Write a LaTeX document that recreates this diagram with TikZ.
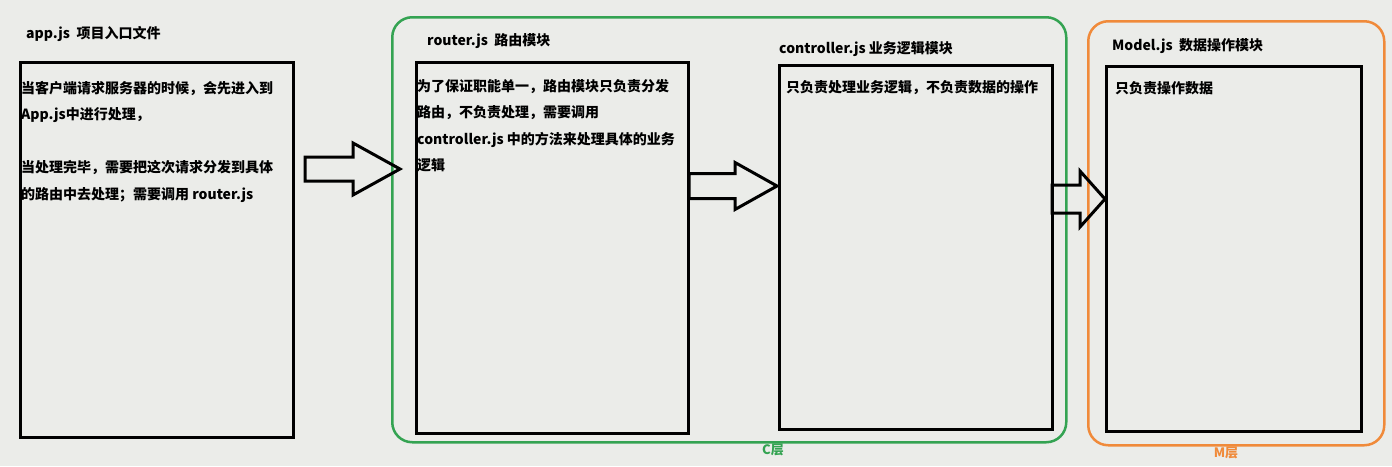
\documentclass[tikz,border=0pt]{standalone}
\usepackage{fontspec}
\setmainfont{Noto Sans CJK SC}
\usetikzlibrary{calc}
\definecolor{sfondo}{RGB}{235,236,233}
\definecolor{verde}{RGB}{52,163,82}
\definecolor{arancio}{RGB}{240,138,58}
\tikzset{
	modulo/.style={draw=black, line width=3pt, anchor=north west, inner sep=0pt},
	strato/.style={line width=2.5pt, rounded corners=20pt, anchor=north west, inner sep=0pt},
	titolo/.style={anchor=west, inner sep=0pt, font=\bfseries\fontsize{14}{16}\selectfont},
	testo/.style={anchor=north west, inner sep=0pt, align=left, font=\bfseries\fontsize{14}{26.5}\selectfont},
	etichetta/.style={inner sep=0pt, font=\bfseries\fontsize{13}{15}\selectfont},
	freccia/.style={draw=black, line width=3pt, line join=miter},
}
% freccia piena: da, a, mezzo fusto, mezza testa, lunghezza testa
\newcommand{\freccia}[5]{%
	\draw[freccia] let \p1=(#1), \p2=(#2) in
		(\x1,\y1+#3) -- (\x2-#5,\y1+#3) -- (\x2-#5,\y1+#4) -- (\x2,\y1)
		-- (\x2-#5,\y1-#4) -- (\x2-#5,\y1-#3) -- (\x1,\y1-#3) -- cycle;}
\begin{document}
\begin{tikzpicture}[x=1pt, y=-1pt]
		\useasboundingbox[fill=sfondo] (0,0) rectangle (1392,466);

		% Strati C e M
		\node[strato, draw=verde, minimum width=674, minimum height=425] (stratoC) at (391,16) {};
		\node[strato, draw=arancio, minimum width=296, minimum height=424] (stratoM) at (1087,20) {};
		\node[etichetta, text=verde] (etC) at (773,450) {C层};
		\node[etichetta, text=arancio] (etM) at (1226,453) {M层};

		% Moduli
		\node[modulo, minimum width=273, minimum height=375] (app) at (18.5,60.5) {};
		\node[modulo, minimum width=272, minimum height=371] (router) at (414.5,60.5) {};
		\node[modulo, minimum width=273, minimum height=364] (controller) at (777.5,63.5) {};
		\node[modulo, minimum width=255, minimum height=365] (model) at (1104.5,64.5) {};

		% Titoli
		\node[titolo] (appT) at (26,34) {app.js\ \ 项目入口文件};
		\node[titolo] (routerT) at (427,41) {router.js\ \ 路由模块};
		\node[titolo] (controllerT) at (779,49) {controller.js 业务逻辑模块};
		\node[titolo] (modelT) at (1112,46) {Model.js\ \ 数据操作模块};

		% Testi
		\node[testo] (appX) at (21,81) {当客户端请求服务器的时候，会先进入到\\App.js中进行处理，\\[26.5pt]当处理完毕，需要把这次请求分发到具体\\的路由中去处理；需要调用 router.js};
		\node[testo] (routerX) at (417,79) {为了保证职能单一，路由模块只负责分发\\路由，不负责处理，需要调用\\controller.js 中的方法来处理具体的业务\\逻辑};
		\node[testo] (controllerX) at (786,80) {只负责处理业务逻辑，不负责数据的操作};
		\node[testo] (modelX) at (1115,81) {只负责操作数据};

		% Frecce
		\coordinate (f1a) at (305,169);
		\coordinate (f1b) at (400,169);
		\coordinate (f2a) at (689,186);
		\coordinate (f2b) at (777,186);
		\coordinate (f3a) at (1052,199);
		\coordinate (f3b) at (1105,199);
		\freccia{f1a}{f1b}{12pt}{26pt}{47pt}
		\freccia{f2a}{f2b}{12.5pt}{23.5pt}{42pt}
		\freccia{f3a}{f3b}{14pt}{28pt}{25pt}
	\end{tikzpicture}
\end{document}
